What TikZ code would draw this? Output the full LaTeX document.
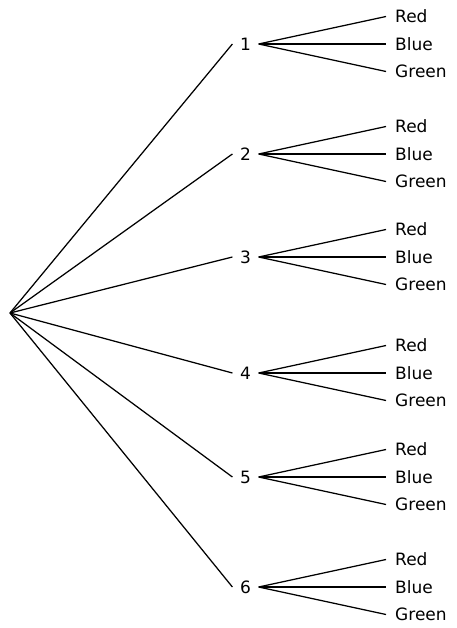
\documentclass[tikz,border=0pt]{standalone}
\usepackage{fontspec}
\setmainfont{DejaVu Sans}
\begin{document}
\begin{tikzpicture}[x=1pt,y=-1pt,
  num/.style={inner xsep=7.5pt,inner ysep=0pt,font=\fontsize{17}{20}\selectfont},
  leaf/.style={anchor=west,inner xsep=9pt,inner ysep=0pt,font=\fontsize{17}{20}\selectfont},
  br/.style={line width=1.25pt,black}]
\useasboundingbox (0,0) rectangle (456,628);
\coordinate (root) at (10,313);
\foreach \i/\y in {1/44,2/154,3/257,4/373,5/477,6/587}{
  \node[num] (n\i) at (245.5,\y) {\i};
  \node[leaf] (r\i) at (386,\y-27.5) {Red};
  \node[leaf] (b\i) at (386,\y) {Blue};
  \node[leaf] (g\i) at (386,\y+27.5) {Green};
  \draw[br] (root) -- (n\i.west);
  \draw[br] (n\i.east) -- (r\i.west);
  \draw[br] (n\i.east) -- (b\i.west);
  \draw[br] (n\i.east) -- (g\i.west);
}
\end{tikzpicture}
\end{document}
